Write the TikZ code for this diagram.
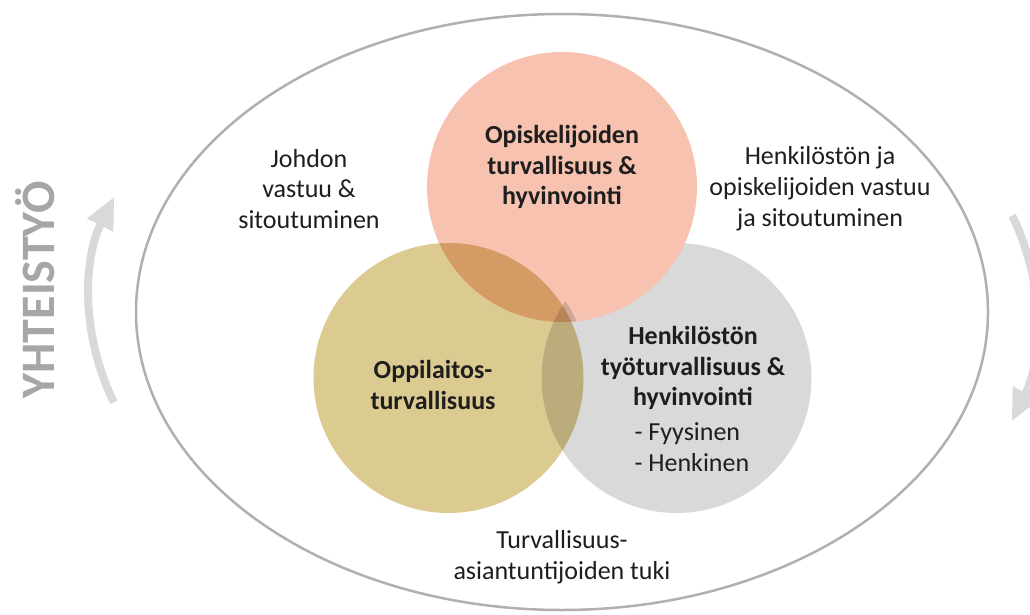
\documentclass[tikz,border=0pt]{standalone}
\usepackage{fontspec}
\setmainfont{Carlito}
\usetikzlibrary{arrows.meta}
\definecolor{salmon}{RGB}{247,195,176}
\definecolor{gold}{RGB}{220,203,145}
\definecolor{greyc}{RGB}{217,217,217}
\definecolor{sg}{RGB}{213,155,100}
\definecolor{sr}{RGB}{210,166,150}
\definecolor{gr}{RGB}{187,173,123}
\definecolor{sgr}{RGB}{182,132,85}
\definecolor{rim}{RGB}{176,176,176}
\definecolor{arrowc}{RGB}{217,217,217}
\definecolor{coop}{RGB}{166,166,166}
\definecolor{txt}{RGB}{30,30,30}
\tikzset{
  venn/.style={circle, minimum size=270pt, inner sep=0pt},
  lbl/.style={align=center, text=txt, font=\fontsize{26}{30.8}\selectfont},
  blbl/.style={align=center, text=txt, font=\fontsize{26}{30.8}\selectfont\bfseries},
  cyc/.style={draw=arrowc, line width=8pt, -{Triangle[width=27pt,length=32pt]}},
}
\begin{document}
\begin{tikzpicture}[x=1pt,y=1pt]
\clip (0,0) rectangle (1030,-615);
\fill[white] (0,0) rectangle (1030,-615);
% outer ellipse
\draw[rim, line width=2.5pt] (562,-312) ellipse [x radius=426, y radius=298];
% circles
\node[venn, fill=gold] (G) at (448.5,-378) {};
\node[venn, fill=greyc] (R) at (676.5,-378) {};
\node[venn, fill=salmon] (S) at (562,-187) {};
% overlaps
\begin{scope}
  \clip (448.5,-378) circle (135);
  \fill[sg] (562,-187) circle (135);
  \fill[gr] (676.5,-378) circle (135);
  \clip (562,-187) circle (135);
  \fill[sgr] (676.5,-378) circle (135);
\end{scope}
\begin{scope}
  \clip (562,-187) circle (135);
  \clip (676.5,-378) circle (135);
  \fill[sr] (448.5,-378) circle (140);
  \clip (448.5,-378) circle (135);
  \fill[sgr] (448.5,-378) circle (140);
\end{scope}
% texts
\node[blbl] (ts) at (562,-167) {Opiskelijoiden\\turvallisuus \&\\hyvinvointi};
\node[blbl] (tg) at (433,-385) {Oppilaitos-\\turvallisuus};
\node[blbl] (tr) at (693,-368) {Henkilöstön\\työturvallisuus \&\\hyvinvointi};
\node[lbl, align=left, anchor=west] (tr2) at (631,-447) {- Fyysinen\\- Henkinen};
\node[lbl] (tj) at (309,-189) {Johdon\\vastuu \&\\sitoutuminen};
\node[lbl] (th) at (820,-189) {Henkilöstön ja\\opiskelijoiden vastuu\\ja sitoutuminen};
\node[lbl] (tt) at (562,-557) {Turvallisuus-\\asiantuntijoiden tuki};
\node[rotate=90, text=coop, font=\fontsize{48}{54}\selectfont\bfseries] (yt) at (35,-290) {YHTEISTYÖ};
% cycle arrows
\draw[cyc] (322,-300) ++(206.2:232) arc[start angle=206.2, end angle=153.5, radius=232];
\draw[cyc] (804,-318) ++(26.2:232) arc[start angle=26.2, end angle=-26.5, radius=232];
\end{tikzpicture}
\end{document}
